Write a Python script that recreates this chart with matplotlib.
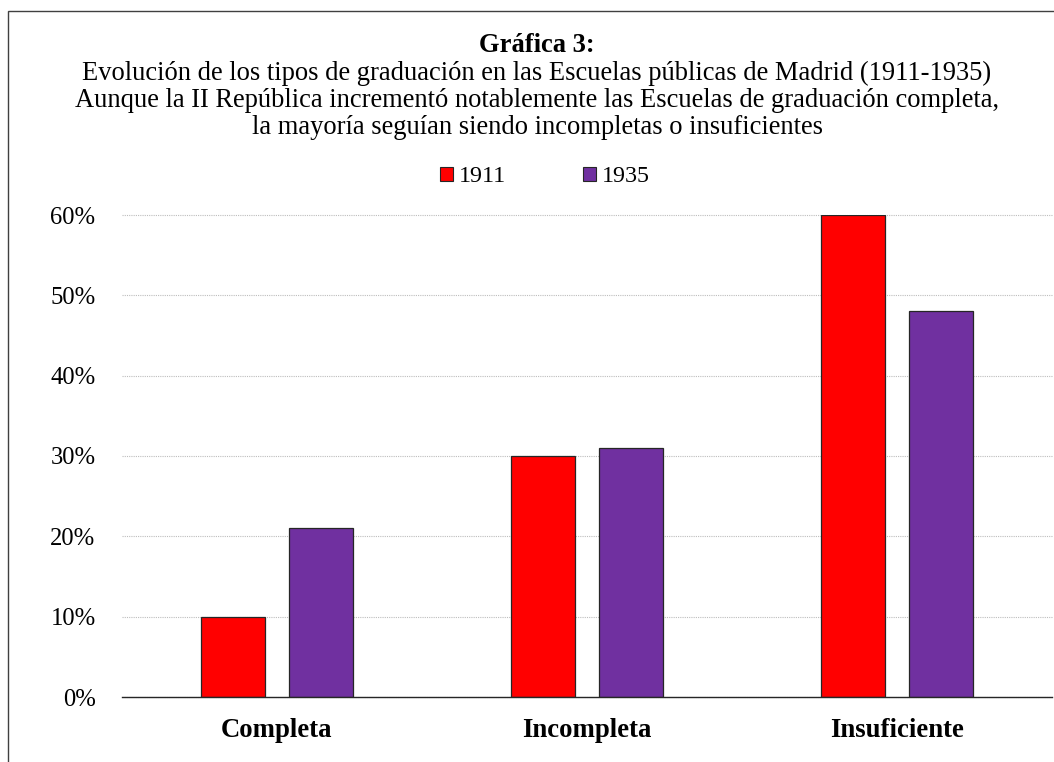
import matplotlib
matplotlib.use("Agg")
import matplotlib.pyplot as plt
import numpy as np
from matplotlib.patches import Rectangle, Patch
from matplotlib.ticker import FuncFormatter

# data
categories = ["Completa", "Incompleta", "Insuficiente"]
years = ["1911", "1935"]
vals_1911 = [10, 30, 60]
vals_1935 = [21, 31, 48]
colors = ["#FF0000", "#7030A0"]

title_bold = "Gráfica 3:"
subtitle = [
    "Evolución de los tipos de graduación en las Escuelas públicas de Madrid (1911-1935)",
    "Aunque la II República incrementó notablemente las Escuelas de graduación completa,",
    "la mayoría seguían siendo incompletas o insuficientes",
]

plt.rcParams["font.family"] = ["Liberation Serif", "DejaVu Serif"]
FS_TICK = 17.7
FS_CAT = 19.3
FS_TITLE = 19.1
FS_LEG = 17.3

W, H = 1054, 762
fig = plt.figure(figsize=(W / 100, H / 100), dpi=100)

# outer chart border (cut on the right and bottom)
fig.patches.append(Rectangle((8 / W, -0.1), 1.2, 1.1 - 11 / H,
                             transform=fig.transFigure, fill=False,
                             edgecolor="#404040", linewidth=1.0))

ax = fig.add_axes([122 / W, 1 - 697 / H, (1052 - 122) / W, (697 - 215) / H])

x = np.arange(len(categories))
bw = 0.207
off = 0.143
ax.bar(x - off, vals_1911, bw, color=colors[0], edgecolor="#262626", linewidth=0.9, zorder=3)
ax.bar(x + off, vals_1935, bw, color=colors[1], edgecolor="#262626", linewidth=0.9, zorder=3)

ax.set_xlim(-0.5, len(categories) - 0.5)
ax.set_ylim(0, 60)
ax.set_yticks(range(0, 61, 10))
ax.yaxis.set_major_formatter(FuncFormatter(lambda v, p: f"{v:.0f}%"))
ax.set_xticks(x)
ax.set_xticklabels(categories, fontweight="bold")
ax.tick_params(axis="y", length=0, pad=19, labelsize=FS_TICK)
ax.tick_params(axis="x", length=0, pad=15, labelsize=FS_CAT)

for s in ["left", "right", "top"]:
    ax.spines[s].set_visible(False)
ax.spines["bottom"].set_color("#262626")
ax.spines["bottom"].set_linewidth(1.0)
ax.spines["bottom"].set_zorder(4)

ax.yaxis.grid(True, color="#BDBDBD", linestyle=(0, (1, 1)), linewidth=0.8, zorder=0)
for gl in ax.get_ygridlines():
    gl.set_clip_on(False)
ax.set_axisbelow(True)

# titles
cx = 537 / W
fig.text(cx, 1 - 45 / H, title_bold, ha="center", va="center",
         fontsize=FS_TITLE, fontweight="bold")
for i, line in enumerate(subtitle):
    fig.text(cx, 1 - (73 + 27.5 * i) / H, line, ha="center", va="center", fontsize=FS_TITLE)

handles = [Patch(facecolor=c, edgecolor="#262626", linewidth=0.8) for c in colors]
fig.legend(handles, years, loc="center", bbox_to_anchor=(545 / W, 1 - 177 / H),
           ncol=2, frameon=False, fontsize=FS_LEG, handlelength=0.55, handleheight=0.55,
           handletextpad=0.25, columnspacing=3.2, borderpad=0)

fig.savefig("out.png", dpi=100)
